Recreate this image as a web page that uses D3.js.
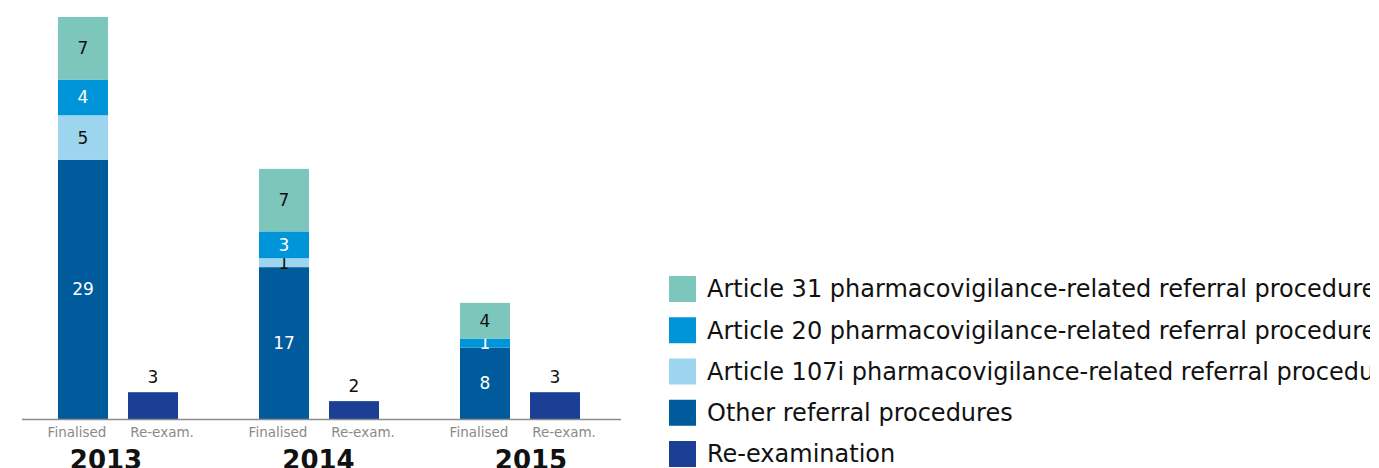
<!DOCTYPE html>
<html>
<head>
<meta charset="utf-8">
<script src="https://cdn.jsdelivr.net/npm/d3@7"></script>
<style>
  html, body { margin: 0; padding: 0; background: #ffffff; overflow: hidden; }
  svg { display: block; }
</style>
</head>
<body>
<svg id="chart" width="1379" height="468"></svg>
<script>
// Referral procedures by year: finalised (stacked by type) and re-examinations
const years = ["2013", "2014", "2015"];
const columns = ["Finalised", "Re-exam."];
const seriesKeys = ["other", "art107i", "art20", "art31"];
const seriesNames = [
  "Article 31 pharmacovigilance-related referral procedures",
  "Article 20 pharmacovigilance-related referral procedures",
  "Article 107i pharmacovigilance-related referral procedures",
  "Other referral procedures",
  "Re-examination"
];
const otherValues   = [29, 17, 8];
const art107iValues = [5, 1, 0];
const art20Values   = [4, 3, 1];
const art31Values   = [7, 7, 4];
const reexamValues  = [3, 2, 3];

const colors = {
  art31: "#7cc6bc",
  art20: "#0095d8",
  art107i: "#9dd5ee",
  other: "#005b9c",
  reexam: "#1b3f95"
};
const labelColors = {
  art31: "#111111",
  art20: "#ffffff",
  art107i: "#111111",
  other: "#ffffff",
  reexam: "#111111"
};

const svg = d3.select("#chart");
svg.append("clipPath").attr("id", "page").append("rect")
  .attr("x", 0).attr("y", 0).attr("width", 1370).attr("height", 468);
const root = svg.append("g").attr("clip-path", "url(#page)");

const baseY = 419;
const y = d3.scaleLinear().domain([0, 45]).range([baseY, 17]);
const x0 = d3.scaleBand().domain(years).range([20, 623]);
const x1 = d3.scaleBand().domain(columns).range([38, 158]).paddingInner(20 / 70);
const xLabel = d3.scalePoint().domain(columns).range([57, 142]);
const xYear = d3.scalePoint().domain(years).range([106, 531]);

const rows = years.map((yr, i) => ({
  year: yr, other: otherValues[i], art107i: art107iValues[i],
  art20: art20Values[i], art31: art31Values[i]
}));
const stacked = d3.stack().keys(seriesKeys)(rows);

const font = "'DejaVu Sans', Verdana, sans-serif";

// stacked "Finalised" bars
stacked.forEach(layer => {
  const key = layer.key;
  const g = root.append("g");
  layer.forEach((seg, i) => {
    const v = seg[1] - seg[0];
    if (v <= 0) return;
    const bx = x0(years[i]) + x1("Finalised");
    g.append("rect")
      .attr("x", bx).attr("width", x1.bandwidth())
      .attr("y", y(seg[1])).attr("height", y(seg[0]) - y(seg[1]))
      .attr("fill", colors[key]);
    g.append("text")
      .attr("x", bx + x1.bandwidth() / 2)
      .attr("y", (y(seg[0]) + y(seg[1])) / 2)
      .attr("dy", "0.35em")
      .attr("text-anchor", "middle")
      .attr("font-family", font).attr("font-size", 17)
      .attr("fill", labelColors[key])
      .text(v);
  });
});

// re-examination bars
years.forEach((yr, i) => {
  const bx = x0(yr) + x1("Re-exam.");
  root.append("rect")
    .attr("x", bx).attr("width", x1.bandwidth())
    .attr("y", y(reexamValues[i])).attr("height", baseY - y(reexamValues[i]))
    .attr("fill", colors.reexam);
  root.append("text")
    .attr("x", bx + x1.bandwidth() / 2)
    .attr("y", y(reexamValues[i]) - 9)
    .attr("text-anchor", "middle")
    .attr("font-family", font).attr("font-size", 17)
    .attr("fill", labelColors.reexam)
    .text(reexamValues[i]);
});

// baseline
root.append("line")
  .attr("x1", 22).attr("x2", 621)
  .attr("y1", baseY + 0.5).attr("y2", baseY + 0.5)
  .attr("stroke", "#8c8c8c").attr("stroke-width", 1.5);

// column and year labels
years.forEach(yr => {
  columns.forEach(c => {
    root.append("text")
      .attr("x", x0(yr) + xLabel(c))
      .attr("y", 437)
      .attr("text-anchor", "middle")
      .attr("font-family", font).attr("font-size", 13.5)
      .attr("fill", "#8a8a8a")
      .text(c);
  });
  root.append("text")
    .attr("x", xYear(yr))
    .attr("y", 469)
    .attr("text-anchor", "middle")
    .attr("font-family", font).attr("font-size", 26).attr("font-weight", "bold")
    .attr("fill", "#111111")
    .text(yr);
});

// legend
const legendKeys = ["art31", "art20", "art107i", "other", "reexam"];
const legendY = d3.scalePoint().domain(legendKeys).range([289, 454]);
legendKeys.forEach((k, i) => {
  const cy = legendY(k);
  root.append("rect")
    .attr("x", 669).attr("y", cy - 13).attr("width", 27).attr("height", 26)
    .attr("fill", colors[k]);
  root.append("text")
    .attr("x", 707).attr("y", cy)
    .attr("dy", "0.35em")
    .attr("font-family", font).attr("font-size", 24)
    .attr("fill", "#111111")
    .text(seriesNames[i]);
});
</script>
</body>
</html>
